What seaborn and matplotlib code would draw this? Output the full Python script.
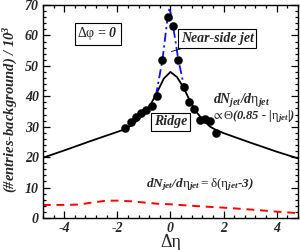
import matplotlib
matplotlib.use("Agg")
import matplotlib.pyplot as plt
from matplotlib.ticker import MultipleLocator
import seaborn as sns

# measured points (black circles)
eta_bins = [-1.7, -1.5, -1.3, -1.1, -0.9, -0.7, -0.5, -0.3, -0.1,
            0.1, 0.3, 0.5, 0.7, 0.9, 1.1, 1.3, 1.5, 1.7]
counts = [29.7, 31.6, 33.3, 34.6, 35.5, 36.8, 40.2, 51.9, 66.2,
          63.2, 51.9, 43.0, 38.0, 35.8, 32.2, 32.4, 32.0, 27.8]

# ridge model (solid black)
ridge_x = [-4.8, -4.0, -3.0, -2.0, -1.7, -1.5, -1.25, -1.0, -0.75, -0.5, -0.25, 0.0,
           0.25, 0.5, 0.75, 1.0, 1.25, 1.5, 1.7, 2.0, 3.0, 4.0, 4.8]
ridge_y = [19.8, 22.2, 25.3, 28.3, 29.2, 30.3, 32.0, 34.3, 37.2, 41.3, 45.8, 48.0,
           46.3, 42.8, 38.2, 34.6, 32.0, 30.0, 29.0, 27.9, 24.8, 21.8, 19.6]

# near-side jet (blue dash-dot)
jet_x = [-0.55, -0.3, -0.1, -0.03, 0.1, 0.3, 0.52]
jet_y = [40.0, 51.9, 66.2, 69.0, 63.2, 51.9, 43.0]

# delta(eta_jet - 3) (red dashed)
delta_x = [-4.8, -4.0, -3.5, -3.0, -2.5, -2.2, -2.0, -1.5, -1.0, -0.5, 0.0, 1.0, 2.0, 3.0, 4.0, 4.8]
delta_y = [4.3, 4.3, 4.4, 5.0, 5.6, 5.7, 5.7, 5.5, 5.1, 4.7, 4.5, 3.9, 3.4, 2.8, 2.1, 1.6]

sns.set_style("ticks")
plt.rcParams['font.family'] = ['Liberation Serif', 'DejaVu Serif']
plt.rcParams['axes.unicode_minus'] = False
plt.rcParams['mathtext.fontset'] = 'custom'
plt.rcParams['mathtext.rm'] = 'Liberation Serif:bold:italic'
plt.rcParams['mathtext.it'] = 'Liberation Serif:bold:italic'
plt.rcParams['mathtext.bf'] = 'Liberation Serif:bold:italic'
plt.rcParams['mathtext.sf'] = 'Liberation Serif'

fig, ax = plt.subplots(figsize=(3, 2.5), dpi=100)
fig.subplots_adjust(left=0.143, right=0.993, bottom=0.128, top=0.98)

sns.lineplot(x=ridge_x, y=ridge_y, ax=ax, color='black', lw=1.3, estimator=None)
sns.lineplot(x=delta_x, y=delta_y, ax=ax, color='red', lw=1.4, estimator=None,
             linestyle=(0, (4, 3)))
sns.lineplot(x=jet_x, y=jet_y, ax=ax, color='#1010ee', lw=1.3, estimator=None,
             linestyle=(0, (5, 2, 1.2, 2)))
sns.scatterplot(x=eta_bins, y=counts, ax=ax, color='black', s=34, edgecolor='black',
                linewidth=0.3, zorder=5)

ax.set_xlim(-4.8, 4.8)
ax.set_ylim(0, 70)
ax.xaxis.set_major_locator(MultipleLocator(2))
ax.xaxis.set_minor_locator(MultipleLocator(0.4))
ax.yaxis.set_major_locator(MultipleLocator(10))
ax.yaxis.set_minor_locator(MultipleLocator(2))
ax.tick_params(which='both', direction='in', top=True, right=True, width=0.9, color='black')
ax.tick_params(which='major', length=5, pad=3)
ax.tick_params(which='minor', length=2.5)
for lab in ax.get_xticklabels() + ax.get_yticklabels():
    lab.set_fontsize(10)
    lab.set_fontweight('bold')
    lab.set_fontstyle('italic')
for sp in ax.spines.values():
    sp.set_linewidth(1.0)
    sp.set_color('black')

ax.set_xlabel(r'Δη', fontsize=13)
ax.xaxis.set_label_coords(0.5, -0.075)
ax.set_ylabel(r'(#entries-background) / 10$^3$', fontsize=10.5, fontweight='bold', fontstyle='italic')
ax.yaxis.set_label_coords(-0.088, 0.51)

box = dict(boxstyle='square,pad=0.2', fc='white', ec='black', lw=0.8)
txt = dict(fontsize=10, fontweight='bold', fontstyle='italic')

ax.text(-2.74, 60.5, r'$\mathsf{Δφ}$ = 0', ha='center', va='center', bbox=box, **txt)
ax.annotate('Near-side jet', xy=(0.03, 54.7), xytext=(1.76, 59.0), ha='center', va='center',
            bbox=box, arrowprops=dict(arrowstyle='-', lw=0.6, color='black', shrinkA=0, shrinkB=0),
            **txt)
ax.text(0.0, 31.6, 'Ridge', ha='center', va='center', bbox=box, **txt)
ax.text(1.59, 38.6, r'$dN_{jet}/d\mathsf{η}_{jet}$', ha='left', va='center', **txt)
ax.text(1.62, 33.2, r'$\mathsf{∝\,Θ}(0.85$ - $|\mathsf{η}_{jet}|)$', ha='left', va='center',
        fontsize=9, fontweight='bold', fontstyle='italic')
ax.text(-0.91, 10.8, r'$dN_{jet}/d\mathsf{η}_{jet}$$\mathsf{=δ(η}_{jet}$-3)', ha='left',
        va='center', fontsize=9.5, fontweight='bold', fontstyle='italic')

fig.savefig('out.png', dpi=100)
